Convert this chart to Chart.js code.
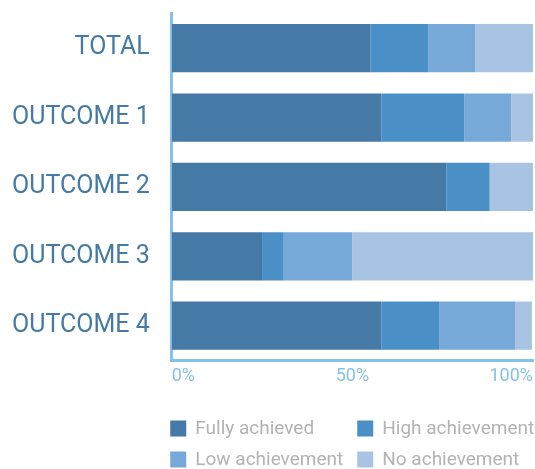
<!DOCTYPE html>
<html>
<head>
<meta charset="utf-8">
<script src="https://cdn.jsdelivr.net/npm/chart.js@4"></script>
<style>
  html, body { margin: 0; padding: 0; background: #fff; }
  #wrap { width: 535px; height: 469px; position: relative; }
</style>
</head>
<body>
<div id="wrap"><canvas id="myChart"></canvas></div>
<script>
var categories = ['TOTAL', 'OUTCOME 1', 'OUTCOME 2', 'OUTCOME 3', 'OUTCOME 4'];
var fully = [55, 58, 76, 25, 58];
var high = [16, 23, 12, 6, 16];
var low = [13, 13, 0, 19, 21];
var none = [16, 6, 12, 50, 4.7];
var xTicks = [0, 50, 100];

var c = document.getElementById("myChart");
var ctx = c.getContext("2d");

// legend laid out as a 2 column grid under the plot
var gridLegend = {
    id: 'gridLegend',
    afterDraw: function (chart) {
        var g = chart.ctx;
        var x0 = chart.chartArea.left - 1.5;
        g.save();
        g.font = '19px Roboto';
        g.textBaseline = 'middle';
        chart.data.datasets.forEach(function (ds, i) {
            var x = x0 + (i % 2) * 187;
            var y = 428.5 + Math.floor(i / 2) * 31;
            g.fillStyle = ds.backgroundColor;
            g.fillRect(x, y - 8, 16, 16);
            g.fillStyle = '#b3b3b3';
            g.fillText(ds.label, x + 25, y + 1);
        });
        g.restore();
    }
};

var chart = new Chart(ctx, {
    type: 'bar',
    data: {
        labels: categories,
        datasets: [
            { label: 'Fully achieved', data: fully, backgroundColor: '#447AA5' },
            { label: 'High achievement', data: high, backgroundColor: '#4A8FC6' },
            { label: 'Low achievement', data: low, backgroundColor: '#76A8D8' },
            { label: 'No achievement', data: none, backgroundColor: '#A9C4E2' }
        ]
    },
    plugins: [gridLegend],
    options: {
        indexAxis: 'y',
        responsive: true,
        maintainAspectRatio: false,
        animation: false,
        layout: { padding: { left: 12, right: 2, top: 13.5, bottom: 82 } },
        datasets: { bar: { categoryPercentage: 0.8, barPercentage: 0.87, borderWidth: 0 } },
        plugins: {
            legend: { display: false },
            tooltip: { enabled: false }
        },
        scales: {
            x: {
                stacked: true,
                min: 0,
                max: 100,
                afterBuildTicks: function (axis) {
                    axis.ticks = xTicks.map(function (v) { return { value: v }; });
                },
                grid: { display: false, drawTicks: true, tickLength: 5 },
                border: { display: true, color: '#85C1E9', width: 3 },
                ticks: {
                    align: 'inner',
                    padding: 0,
                    color: '#85C1E9',
                    font: { family: 'Roboto', size: 18 },
                    callback: function (v) { return v + '%'; }
                }
            },
            y: {
                stacked: true,
                grid: { display: false, drawTicks: true, tickLength: 22 },
                border: { display: true, color: '#85C1E9', width: 3 },
                ticks: {
                    padding: 0,
                    color: '#447AA5',
                    font: { family: 'Roboto', size: 25, lineHeight: 1 }
                }
            }
        }
    }
});
</script>
</body>
</html>
